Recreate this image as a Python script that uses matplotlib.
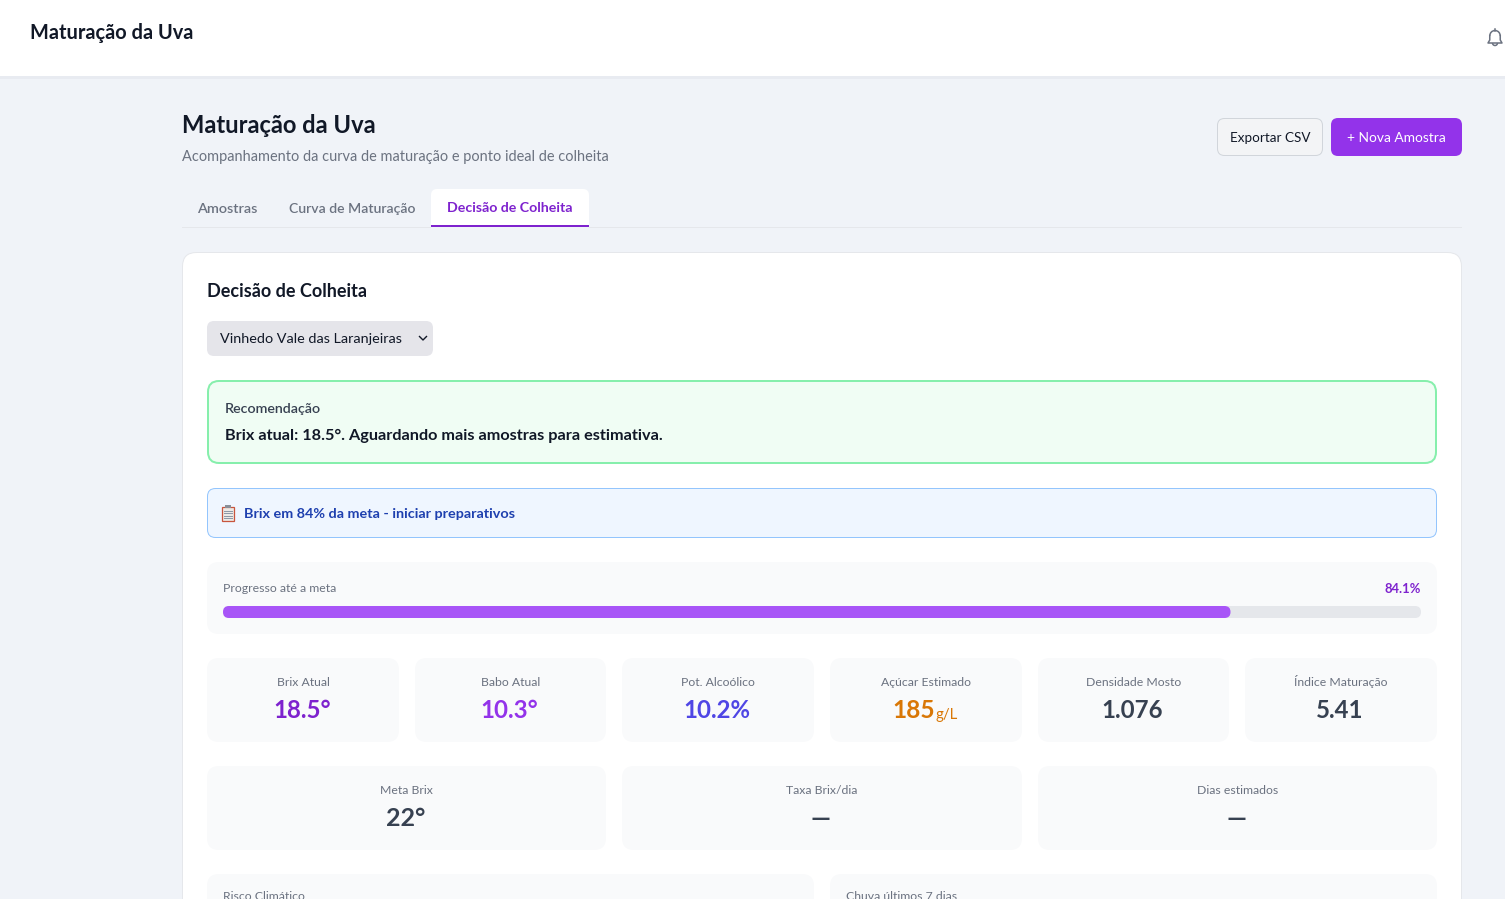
import matplotlib
matplotlib.use("Agg")
import matplotlib.pyplot as plt
from matplotlib.patches import FancyBboxPatch, Rectangle, Arc

W, H = 1505, 899

page_title = "Maturação da Uva"
page_subtitle = "Acompanhamento da curva de maturação e ponto ideal de colheita"
tabs = ["Amostras", "Curva de Maturação", "Decisão de Colheita"]
section_title = "Decisão de Colheita"
vineyard = "Vinhedo Vale das Laranjeiras"
rec_label = "Recomendação"
rec_text = "Brix atual: 18.5°. Aguardando mais amostras para estimativa."
alert_text = "Brix em 84% da meta - iniciar preparativos"
progress_label = "Progresso até a meta"
progress_pct = 84.1

row1_labels = ["Brix Atual", "Babo Atual", "Pot. Alcoólico", "Açúcar Estimado", "Densidade Mosto", "Índice Maturação"]
row1_values = ["18.5°", "10.3°", "10.2%", "185", "1.076", "5.41"]
row1_colors = ["#7e22ce", "#9333ea", "#4f46e5", "#d97706", "#374151", "#374151"]
row2_labels = ["Meta Brix", "Taxa Brix/dia", "Dias estimados"]
row2_values = ["22°", "—", "—"]
row3_labels = ["Risco Climático", "Chuva últimos 7 dias"]

FONT = "Lato"
plt.rcParams["font.family"] = [FONT, "DejaVu Sans"]

fig = plt.figure(figsize=(W / 100, H / 100), dpi=100, facecolor="#f0f3f8")
ax = fig.add_axes([0, 0, 1, 1])
ax.set_xlim(0, W)
ax.set_ylim(H, 0)
ax.axis("off")


def box(x0, y0, x1, y1, fc, ec="none", r=8, lw=0.72, z=1):
    p = FancyBboxPatch((x0 + r, y0 + r), x1 - x0 - 2 * r, y1 - y0 - 2 * r,
                       boxstyle=f"round,pad={r},rounding_size={r}",
                       fc=fc, ec=ec, lw=lw, zorder=z)
    ax.add_patch(p)
    return p


def txt(x, y, s, px, color, weight="normal", ha="left"):
    return ax.text(x, y, s, fontsize=px * 0.72, color=color, fontweight=weight,
                   ha=ha, va="center", zorder=5)


# barra superior
ax.add_patch(Rectangle((0, 76), W, 3, fc="#e8ebf1", ec="none", zorder=1))
ax.add_patch(Rectangle((0, 0), W, 76, fc="white", ec="none", zorder=2))
txt(30, 33, page_title, 20, "#111827", "bold")

# sino
bell = "#6b7280"
ax.add_patch(Arc((1495, 36), 10.5, 11, theta1=180, theta2=360, color=bell, lw=1.1, zorder=5))
ax.plot([1489.75, 1489.75, 1488, 1502, 1500.25, 1500.25], [36, 40, 43, 43, 40, 36],
        color=bell, lw=1.1, zorder=5)
ax.add_patch(Arc((1495, 43), 5, 5, theta1=0, theta2=180, color=bell, lw=1.1, zorder=5))
ax.plot([1495, 1495], [29, 30.5], color=bell, lw=1.1, zorder=5)

# cabeçalho da página
txt(182, 125.5, page_title, 23.8, "#111827", "bold")
txt(182, 156.5, page_subtitle, 14.5, "#6b7280")

box(1217.5, 118.5, 1322.5, 155.5, "#f3f4f6", "#d1d5db", r=7)
txt(1270, 137.5, "Exportar CSV", 13.5, "#111827", ha="center")
box(1331, 118, 1462, 156, "#9333ea", r=7)
txt(1396.5, 137.5, "+ Nova Amostra", 13.7, "white", ha="center")

# abas
ax.add_patch(Rectangle((182, 227), 1280, 1, fc="#e5e7eb", ec="none", zorder=1))
box(431, 189, 589, 232, "white", r=6, z=2)
ax.add_patch(Rectangle((431, 227), 158, 6, fc="#f0f3f8", ec="none", zorder=3))
ax.add_patch(Rectangle((431, 225), 158, 2, fc="#7e22ce", ec="none", zorder=4))
txt(197.5, 209, tabs[0], 14.4, "#6b7280", "semibold")
txt(289, 209, tabs[1], 14, "#6b7280", "semibold")
txt(447, 208, tabs[2], 14.15, "#7e22ce", "bold")

# cartão principal
box(182.5, 252.5, 1461.5, 960, "white", "#e5e7eb", r=14)
txt(207, 291.5, section_title, 18, "#111827", "bold")

box(207, 321, 433, 356, "#e5e5ea", r=7)
txt(220, 339, vineyard, 14.45, "#111827")
ax.plot([419.5, 423, 426.5], [336.5, 340, 336.5], color="#111827", lw=1.0, zorder=5)

# recomendação
box(208, 381, 1436, 463, "#f0fdf4", "#86efac", r=11, lw=1.44)
txt(225, 409, rec_label, 14.2, "#374151", "semibold")
txt(225, 435.5, rec_text, 16.3, "#111827", "bold")

# alerta
box(207.5, 488.5, 1436.5, 537.5, "#eff6ff", "#93c5fd", r=8)
ax.add_patch(Rectangle((222, 506.5), 12, 14, fc="#eceae6", ec="#c8553d", lw=0.9, zorder=5))
ax.add_patch(Rectangle((225, 505), 6, 3, fc="#8a8f98", ec="none", zorder=6))
for yy in [510.5, 513, 515.5, 518]:
    ax.plot([224, 232], [yy, yy], color="#8a97a5", lw=0.7, zorder=6)
txt(244, 513.5, alert_text, 14.35, "#1e40af", "bold")

# progresso
box(207, 562, 1437, 634, "#f9fafb", r=12)
txt(223, 588.5, progress_label, 12.3, "#6b7280")
txt(1421, 589, f"{progress_pct}%", 13, "#7e22ce", "bold", ha="right")
bar_x0, bar_x1 = 223, 1421
box(bar_x0, 606, bar_x1, 618, "#e5e7eb", r=6, z=2)
box(bar_x0, 606, bar_x0 + (bar_x1 - bar_x0) * progress_pct / 100, 618, "#a855f7", r=6, z=3)

# métricas
row1_x = [(207, 399), (415, 606), (622, 814), (830, 1022), (1038, 1229), (1245, 1437)]
for (x0, x1), lab, val, col in zip(row1_x, row1_labels, row1_values, row1_colors):
    box(x0, 658, x1, 742, "#f9fafb", r=12)
    cx = (x0 + x1) / 2
    txt(cx, 682, lab, 12.2, "#6b7280", ha="center")
    if val == "185":
        txt(913.5, 711, val, 24.5, col, "bold", ha="center")
        txt(936, 714.5, "g/L", 15, col)
    else:
        txt(cx - 1, 711, val, 24, col, "bold", ha="center")

row2_x = [(207, 606), (622, 1022), (1038, 1437)]
for (x0, x1), lab, val in zip(row2_x, row2_labels, row2_values):
    box(x0, 766, x1, 850, "#f9fafb", r=12)
    cx = (x0 + x1) / 2
    txt(cx, 790, lab, 12.2, "#6b7280", ha="center")
    txt(cx - 1, 819, val, 25, "#374151", "bold", ha="center")

row3_x = [(207, 814), (830, 1437)]
for (x0, x1), lab in zip(row3_x, row3_labels):
    box(x0, 874, x1, 960, "#f9fafb", r=12)
    txt(x0 + 16, 896.5, lab, 12.2, "#6b7280")

fig.savefig("out.png", dpi=100, facecolor=fig.get_facecolor())
plt.close(fig)
